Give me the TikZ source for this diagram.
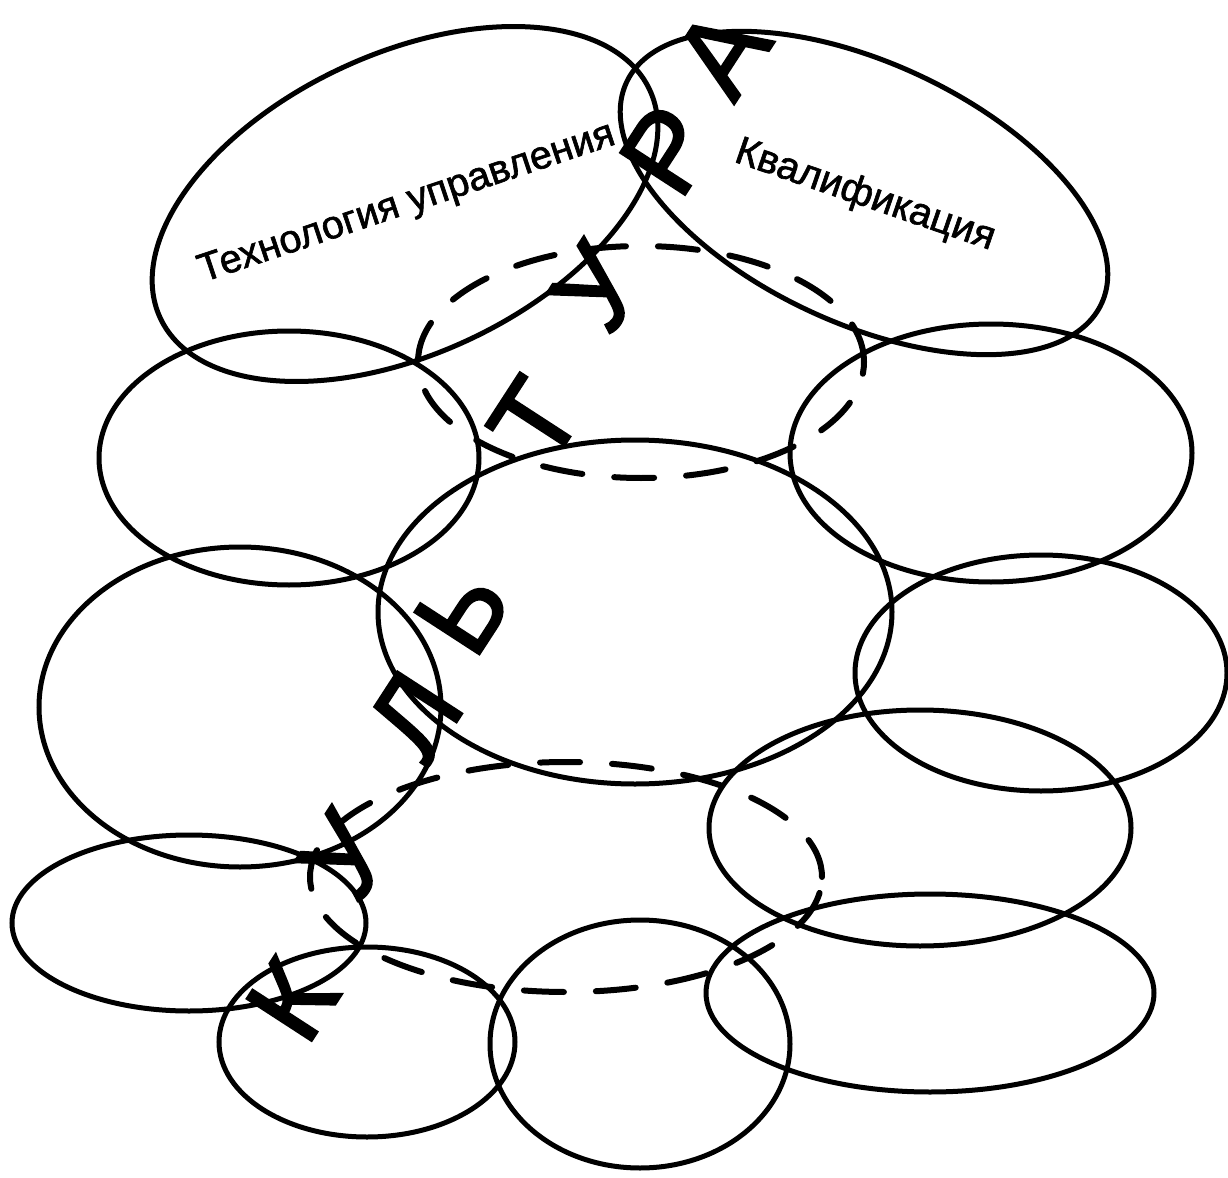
\documentclass[tikz,border=0pt]{standalone}
\usepackage{fontspec}
\setmainfont{Liberation Sans}
\newfontfamily\heavysans{Liberation Sans}[FakeBold=1.6]
\newfontfamily\heavierSans{Liberation Sans}[FakeBold=2.2]
\usepackage{tikz}
\usetikzlibrary{shapes.geometric}
\definecolor{ink}{HTML}{000000}
\tikzset{
  oval/.style={ellipse, draw=ink, line width=2.5pt, inner sep=0pt},
  ring/.style={ellipse, draw=ink, line width=3pt, inner sep=0pt,
               dash pattern=on 20pt off 16pt, line cap=round},
  lbl/.style={font=\heavysans\fontsize{19.8}{22}\selectfont, text=ink, inner sep=0pt},
  kult/.style={font=\heavierSans\fontsize{56}{60}\selectfont, text=ink, inner sep=0pt, rotate=57}
}

\begin{document}
\begin{tikzpicture}[x=0.5pt, y=-0.5pt]
  \useasboundingbox (0,0) rectangle (1228,1178);

  \node[oval, minimum width=270pt, minimum height=150pt, rotate=25] (tech) at (405,204) {};
  \node[oval, minimum width=262pt, minimum height=130pt, rotate=-25] (qual) at (864,193) {};
  \node[oval, minimum width=190pt, minimum height=127pt] (midl) at (289,458) {};
  \node[oval, minimum width=201pt, minimum height=129pt] (midr) at (991,453) {};
  \node[oval, minimum width=257pt, minimum height=172pt] (core) at (635,612) {};
  \node[oval, minimum width=201pt, minimum height=160pt] (lowl) at (240,707) {};
  \node[oval, minimum width=186pt, minimum height=118pt] (lowr) at (1041,673) {};
  \node[oval, minimum width=211pt, minimum height=118pt] (basr) at (920,828) {};
  \node[oval, minimum width=177pt, minimum height=88pt] (basl) at (189,923) {};
  \node[oval, minimum width=224pt, minimum height=99pt] (footr) at (930,993) {};
  \node[oval, minimum width=148pt, minimum height=95pt] (footl) at (367,1042) {};
  \node[oval, minimum width=150pt, minimum height=124pt] (footm) at (640,1044) {};

  \node[ring, minimum width=223pt, minimum height=116pt] (coilup) at (641,362) {};
  \node[ring, minimum width=256pt, minimum height=115pt] (coildn) at (566,877) {};

  \node[lbl, rotate=18.5] (techtxt) at (407,204) {Технология управления};
  \node[lbl, rotate=-19] (qualtxt) at (865,196) {Квалификация};

  \node[kult] (k1) at (292,1000) {К};
  \node[kult] (k2) at (345,856) {У};
  \node[kult] (k3) at (415,716) {Л};
  \node[kult] (k4) at (462,610) {Ь};
  \node[kult] (k5) at (535,420) {Т};
  \node[kult] (k6) at (597,288) {У};
  \node[kult] (k7) at (668,150) {Р};
  \node[kult] (k8) at (722,52) {А};
\end{tikzpicture}
\end{document}
